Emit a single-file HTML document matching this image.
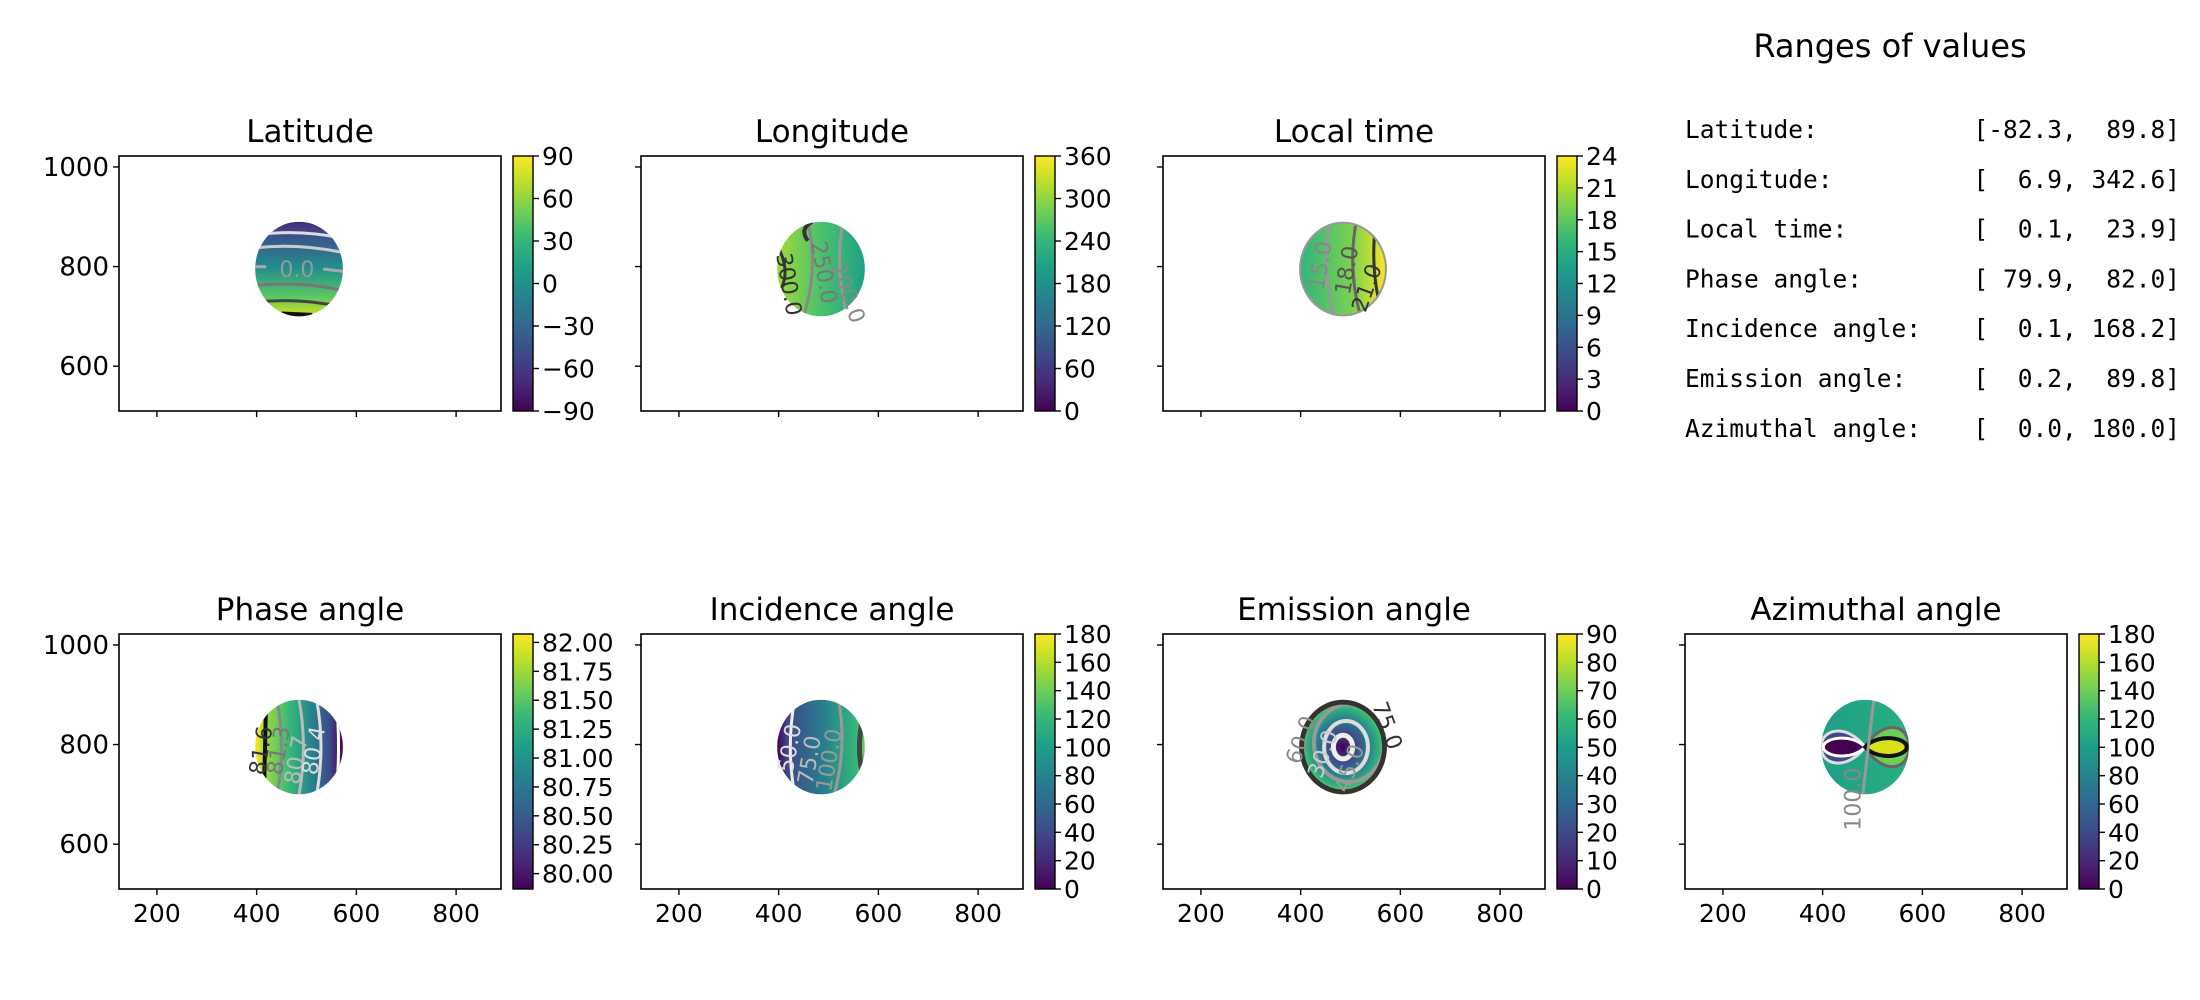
<!DOCTYPE html>
<html><head><meta charset="utf-8">
<style>
html,body{margin:0;padding:0;background:#fff;width:2200px;height:1000px;overflow:hidden}
svg text{font-family:"DejaVu Sans","Liberation Sans",sans-serif}
.mono{font-family:"DejaVu Sans Mono","Liberation Mono",monospace}
</style></head>
<body>
<svg id="fig" width="2200" height="1000" viewBox="0 0 2200 1000" xmlns="http://www.w3.org/2000/svg">
<defs>
<linearGradient id="viridisV" x1="0" y1="1" x2="0" y2="0">
<stop offset="0" stop-color="#440154"/><stop offset="0.11" stop-color="#482878"/><stop offset="0.22" stop-color="#3e4989"/><stop offset="0.33" stop-color="#31688e"/><stop offset="0.44" stop-color="#26828e"/><stop offset="0.56" stop-color="#1f9e89"/><stop offset="0.67" stop-color="#35b779"/><stop offset="0.78" stop-color="#6ece58"/><stop offset="0.89" stop-color="#b5de2b"/><stop offset="1" stop-color="#fde725"/>
</linearGradient>
<linearGradient id="gLat" x1="0" y1="0" x2="0" y2="1"><stop offset="0" stop-color="#482878"/><stop offset="0.15" stop-color="#3b528b"/><stop offset="0.5" stop-color="#21918c"/><stop offset="0.8" stop-color="#5ec962"/><stop offset="1" stop-color="#d8e219"/></linearGradient>
<linearGradient id="gLon" x1="0" y1="0" x2="1" y2="0"><stop offset="0" stop-color="#a0da39"/><stop offset="0.5" stop-color="#4ac16d"/><stop offset="1" stop-color="#1fa187"/></linearGradient>
<linearGradient id="gLt" x1="0" y1="0" x2="1" y2="0"><stop offset="0" stop-color="#2fb47c"/><stop offset="0.6" stop-color="#7ad151"/><stop offset="1" stop-color="#fde725"/></linearGradient>
<linearGradient id="gPh" x1="0" y1="0" x2="1" y2="0"><stop offset="0" stop-color="#fde725"/><stop offset="0.15" stop-color="#8fd744"/><stop offset="0.4" stop-color="#35b779"/><stop offset="0.65" stop-color="#26828e"/><stop offset="0.85" stop-color="#3e4989"/><stop offset="1" stop-color="#440154"/></linearGradient>
<linearGradient id="gInc" x1="0" y1="0" x2="1" y2="0"><stop offset="0" stop-color="#440154"/><stop offset="0.12" stop-color="#3e4989"/><stop offset="0.55" stop-color="#26828e"/><stop offset="0.9" stop-color="#35b779"/><stop offset="1" stop-color="#6ece58"/></linearGradient>
<radialGradient id="gEm" cx="0.5" cy="0.5" r="0.5"><stop offset="0" stop-color="#440154"/><stop offset="0.3" stop-color="#3e4989"/><stop offset="0.6" stop-color="#26828e"/><stop offset="0.85" stop-color="#35b779"/><stop offset="1" stop-color="#b5de2b"/></radialGradient>
<linearGradient id="gAz" x1="0" y1="0" x2="1" y2="0"><stop offset="0" stop-color="#1f9e89"/><stop offset="1" stop-color="#29af7f"/></linearGradient>
</defs>
<g id="root"></g>
</svg>
<script>
// ---- data ----
const panelTitles = ["Latitude","Longitude","Local time","Phase angle","Incidence angle","Emission angle","Azimuthal angle"];
const cbarMin = [-90, 0, 0, 79.867, 0, 0, 0];
const cbarMax = [90, 360, 24, 82.073, 180, 90, 180];
const cbarTicks = [
  [-90,-60,-30,0,30,60,90],
  [0,60,120,180,240,300,360],
  [0,3,6,9,12,15,18,21,24],
  [80.00,80.25,80.50,80.75,81.00,81.25,81.50,81.75,82.00],
  [0,20,40,60,80,100,120,140,160,180],
  [0,10,20,30,40,50,60,70,80,90],
  [0,20,40,60,80,100,120,140,160,180]
];
const cbarDecimals = [0,0,0,2,0,0,0];
const xTicks = [200,400,600,800];
const yTicks = [600,800,1000];
const xDomain = [124, 890];
const yDomain = [510, 1022];
const discCenter = [485, 795];
const discRadii = [88, 95];
const rangeLabels = ["Latitude:","Longitude:","Local time:","Phase angle:","Incidence angle:","Emission angle:","Azimuthal angle:"];
const rangeValues = ["[-82.3,  89.8]","[  6.9, 342.6]","[  0.1,  23.9]","[ 79.9,  82.0]","[  0.1, 168.2]","[  0.2,  89.8]","[  0.0, 180.0]"];

// ---- layout ----
const NS = "http://www.w3.org/2000/svg";
const root = document.getElementById("root");
const colX = [119, 641, 1163, 1685];
const axW = 382, axH = 255;
function mk(tag, attrs, parent){const e=document.createElementNS(NS,tag);for(const k in attrs)e.setAttribute(k,attrs[k]);(parent||root).appendChild(e);return e;}
function slug(s){return s.toLowerCase().replace(/[^a-z]+/g,'-');}

const grads = ["gLat","gLon","gLt","gPh","gInc","gEm","gAz"];
const slots = [[0,0],[0,1],[0,2],[1,0],[1,1],[1,2],[1,3]];

slots.forEach((rc, i) => {
  const r = rc[0], c = rc[1];
  const x0 = colX[c], y0 = r === 0 ? 156 : 634, y1 = y0 + axH;
  const sx = v => x0 + (v - xDomain[0]) / (xDomain[1] - xDomain[0]) * axW;
  const sy = v => y1 - (v - yDomain[0]) / (yDomain[1] - yDomain[0]) * axH;
  const g = mk("g", {});
  
  
  const t = mk("text", {x: x0 + axW/2, y: y0 - 14, "text-anchor":"middle", "font-size":"31"}, g);
  t.textContent = panelTitles[i];
  
  
  const cx = sx(discCenter[0]), cy = sy(discCenter[1]);
  const rx = discRadii[0] / (xDomain[1]-xDomain[0]) * axW, ry = discRadii[1] / (yDomain[1]-yDomain[0]) * axH;
  const cid = "clip" + i;
  const cp = mk("clipPath", {id: cid}, g);
  mk("ellipse", {cx, cy, rx, ry}, cp);
  const disc = mk("g", {"clip-path": "url(#" + cid + ")"}, g);
  
  
  mk("rect", {x: cx-rx, y: cy-ry, width: 2*rx, height: 2*ry, fill: "url(#" + grads[i] + ")"}, disc);
  const L = (d, col, w) => mk("path", {d, stroke: col, "stroke-width": w||3, fill: "none"}, disc);
  const lbl = (txt, x, y, col, rot) => {
    const e = mk("text", {x, y, "font-size":"22", fill: col, "text-anchor":"middle", transform: rot ? `rotate(${rot} ${x} ${y})` : ""}, g);
    e.textContent = txt;
    
    
  };
  if (i === 0) {
    L(`M${cx-rx} ${cy-ry*0.72} Q${cx} ${cy-ry*0.85} ${cx+rx} ${cy-ry*0.65}`, "#ddd");
    L(`M${cx-rx} ${cy-ry*0.45} Q${cx} ${cy-ry*0.55} ${cx+rx} ${cy-ry*0.35}`, "#ccc");
    L(`M${cx-rx} ${cy-ry*0.05} L${cx-rx*0.75} ${cy-ry*0.05} M${cx+rx*0.55} ${cy} L${cx+rx} ${cy+ry*0.05}`, "#aaa");
    L(`M${cx-rx} ${cy+ry*0.35} Q${cx} ${cy+ry*0.25} ${cx+rx} ${cy+ry*0.45}`, "#777");
    L(`M${cx-rx} ${cy+ry*0.7} Q${cx} ${cy+ry*0.6} ${cx+rx} ${cy+ry*0.8}`, "#444");
    L(`M${cx-rx*0.4} ${cy+ry*0.95} L${cx+rx*0.3} ${cy+ry*0.98}`, "#111", 5);
    lbl("0.0", cx-rx*0.05, cy+8, "#999");
  } else if (i === 1) {
    L(`M${cx-rx*0.3} ${cy-ry} Q${cx-rx*0.05} ${cy} ${cx-rx*0.4} ${cy+ry}`, "#888");
    L(`M${cx+rx*0.5} ${cy-ry} Q${cx+rx*0.3} ${cy} ${cx+rx*0.6} ${cy+ry}`, "#999");
    L(`M${cx-rx} ${cy-ry*0.5} Q${cx-rx*0.7} ${cy} ${cx-rx*0.9} ${cy+ry*0.4}`, "#333");
    L(`M${cx-rx*0.2} ${cy-ry} Q${cx-rx*0.5} ${cy-ry*0.85} ${cx-rx*0.3} ${cy-ry*0.6}`, "#333", 4);
    lbl("300.0", cx-rx*0.9, cy+ry*0.35, "#333", 80);
    lbl("250.0", cx-rx*0.1, cy+ry*0.1, "#777", 80);
    lbl("200.0", cx+rx*0.45, cy+ry*0.55, "#888", 70);
  } else if (i === 2) {
    L(`M${cx-rx*0.3} ${cy-ry} Q${cx-rx*0.5} ${cy} ${cx-rx*0.2} ${cy+ry}`, "#999");
    L(`M${cx+rx*0.3} ${cy-ry} Q${cx+rx*0.1} ${cy} ${cx+rx*0.4} ${cy+ry}`, "#666");
    L(`M${cx+rx*0.75} ${cy-ry} Q${cx+rx*0.6} ${cy} ${cx+rx*0.9} ${cy+ry}`, "#333");
    mk("ellipse", {cx, cy, rx, ry, stroke:"#999","stroke-width":4, fill:"none"}, disc);
    lbl("15.0", cx-rx*0.35, cy-ry*0.05, "#888", -80);
    lbl("18.0", cx+rx*0.25, cy+ry*0.05, "#555", -80);
    lbl("21.0", cx+rx*0.7, cy+ry*0.45, "#333", -70);
  } else if (i === 3) {
    L(`M${cx-rx*0.75} ${cy-ry} L${cx-rx*0.8} ${cy+ry}`, "#111", 4);
    L(`M${cx-rx*0.5} ${cy-ry} Q${cx-rx*0.3} ${cy} ${cx-rx*0.5} ${cy+ry}`, "#888");
    L(`M${cx} ${cy-ry} Q${cx+rx*0.2} ${cy} ${cx} ${cy+ry}`, "#bbb");
    L(`M${cx+rx*0.4} ${cy-ry} Q${cx+rx*0.6} ${cy} ${cx+rx*0.4} ${cy+ry}`, "#ddd");
    L(`M${cx+rx*0.85} ${cy-ry} Q${cx+rx*0.95} ${cy} ${cx+rx*0.85} ${cy+ry}`, "#fff");
    lbl("81.6", cx-rx*0.7, cy+ry*0.1, "#333", -80);
    lbl("81.3", cx-rx*0.3, cy+ry*0.1, "#777", -80);
    lbl("80.7", cx+rx*0.1, cy+ry*0.3, "#bbb", -80);
    lbl("80.4", cx+rx*0.5, cy+ry*0.1, "#ddd", -80);
  } else if (i === 4) {
    L(`M${cx-rx*0.6} ${cy-ry} Q${cx-rx*0.8} ${cy} ${cx-rx*0.6} ${cy+ry}`, "#eee");
    L(`M${cx+rx*0.4} ${cy-ry} Q${cx+rx*0.6} ${cy} ${cx+rx*0.3} ${cy+ry}`, "#999");
    L(`M${cx+rx*0.95} ${cy-ry*0.6} Q${cx+rx*0.8} ${cy} ${cx+rx*0.95} ${cy+ry*0.6}`, "#444", 5);
    lbl("50.0", cx-rx*0.55, cy+ry*0.05, "#ddd", -80);
    lbl("75.0", cx-rx*0.1, cy+ry*0.3, "#bbb", -80);
    lbl("100.0", cx+rx*0.35, cy+ry*0.3, "#999", -80);
  } else if (i === 5) {
    mk("ellipse", {cx, cy, rx: rx*0.22, ry: ry*0.25, stroke:"#eee","stroke-width":5, fill:"none"}, disc);
    mk("ellipse", {cx: cx+3, cy, rx: rx*0.5, ry: ry*0.55, stroke:"#ddd","stroke-width":4, fill:"none"}, disc);
    mk("ellipse", {cx: cx+6, cy: cy-4, rx: rx*0.8, ry: ry*0.82, stroke:"#999","stroke-width":4, fill:"none"}, disc);
    mk("ellipse", {cx, cy, rx: rx*0.97, ry: ry*0.97, stroke:"#333","stroke-width":7, fill:"none"}, disc);
    lbl("60.0", cx-rx*0.8, cy-ry*0.1, "#888", -70);
    lbl("75.0", cx+rx*0.85, cy-ry*0.4, "#333", 70);
    lbl("30.0", cx-rx*0.3, cy+ry*0.2, "#ccc", -70);
    lbl("45.0", cx+rx*0.3, cy+ry*0.5, "#999", -70);
  } else if (i === 6) {
    mk("path", {d:`M${cx} ${cy} C${cx-rx*0.4} ${cy-ry*0.5} ${cx-rx} ${cy-ry*0.4} ${cx-rx} ${cy} C${cx-rx} ${cy+ry*0.4} ${cx-rx*0.4} ${cy+ry*0.5} ${cx} ${cy}Z`, fill:"#3e4989", stroke:"#ddd","stroke-width":3}, disc);
    mk("path", {d:`M${cx} ${cy} C${cx-rx*0.3} ${cy-ry*0.3} ${cx-rx*0.95} ${cy-ry*0.2} ${cx-rx*0.95} ${cy} C${cx-rx*0.95} ${cy+ry*0.2} ${cx-rx*0.3} ${cy+ry*0.3} ${cx} ${cy}Z`, fill:"#440154", stroke:"#fff","stroke-width":3}, disc);
    mk("path", {d:`M${cx} ${cy} C${cx+rx*0.4} ${cy-ry*0.6} ${cx+rx} ${cy-ry*0.5} ${cx+rx} ${cy} C${cx+rx} ${cy+ry*0.5} ${cx+rx*0.4} ${cy+ry*0.6} ${cx} ${cy}Z`, fill:"#6ece58", stroke:"#666","stroke-width":3}, disc);
    mk("path", {d:`M${cx} ${cy} C${cx+rx*0.3} ${cy-ry*0.3} ${cx+rx*0.95} ${cy-ry*0.2} ${cx+rx*0.95} ${cy} C${cx+rx*0.95} ${cy+ry*0.2} ${cx+rx*0.3} ${cy+ry*0.3} ${cx} ${cy}Z`, fill:"#d8e219", stroke:"#111","stroke-width":4}, disc);
    L(`M${cx+rx*0.2} ${cy-ry} L${cx-rx*0.05} ${cy+ry}`, "#999");
    lbl("100.0", cx-rx*0.1, cy+ry*1.1, "#888", -90);
  }
  const fr = mk("rect", {x: x0, y: y0, width: axW, height: axH, fill: "none", stroke: "#000", "stroke-width": 1.6}, g);
  
  
  xTicks.forEach(v => {
    const x = sx(v);
    mk("line", {x1:x, x2:x, y1:y1, y2:y1+6, stroke:"#000","stroke-width":1.4}, g);
    if (r === 1) {
      const tt = mk("text", {x, y: y1+33, "text-anchor":"middle", "font-size":"25"}, g);
      tt.textContent = v;
      
      
    }
  });
  yTicks.forEach(v => {
    const y = sy(v);
    mk("line", {x1:x0-6, x2:x0, y1:y, y2:y, stroke:"#000","stroke-width":1.4}, g);
    if (c === 0) {
      const tt = mk("text", {x: x0-10, y: y+9, "text-anchor":"end", "font-size":"26"}, g);
      tt.textContent = v;
      
      
    }
  });
  const cbx = x0 + axW + 12, cbw = 20;
  const cb = mk("rect", {x: cbx, y: y0, width: cbw, height: axH, fill: "url(#viridisV)", stroke:"#000","stroke-width":1.4}, g);
  
  
  const sc = v => y1 - (v - cbarMin[i]) / (cbarMax[i] - cbarMin[i]) * axH;
  cbarTicks[i].forEach(v => {
    const y = sc(v);
    mk("line", {x1: cbx+cbw, x2: cbx+cbw+6, y1: y, y2: y, stroke:"#000","stroke-width":1.4}, g);
    const tt = mk("text", {x: cbx+cbw+9, y: y+9, "font-size":"25"}, g);
    tt.textContent = (v < 0 ? "\u2212" : "") + Math.abs(v).toFixed(cbarDecimals[i]);
    
    
  });
});

const rt = mk("text", {x: 1890, y: 57, "text-anchor":"middle", "font-size":"32"});
rt.textContent = "Ranges of values";


rangeLabels.forEach((lab, k) => {
  const y = 138 + k * 49.8;
  const a = mk("text", {x: 1685, y, "font-size":"24.5", class:"mono"});
  a.textContent = lab;
  
  
  const b = mk("text", {x: 2180, y, "font-size":"24.5", class:"mono", "text-anchor":"end"});
  b.setAttribute("style","white-space:pre");
  b.textContent = rangeValues[k];
  
  
});
</script>
</body></html>
